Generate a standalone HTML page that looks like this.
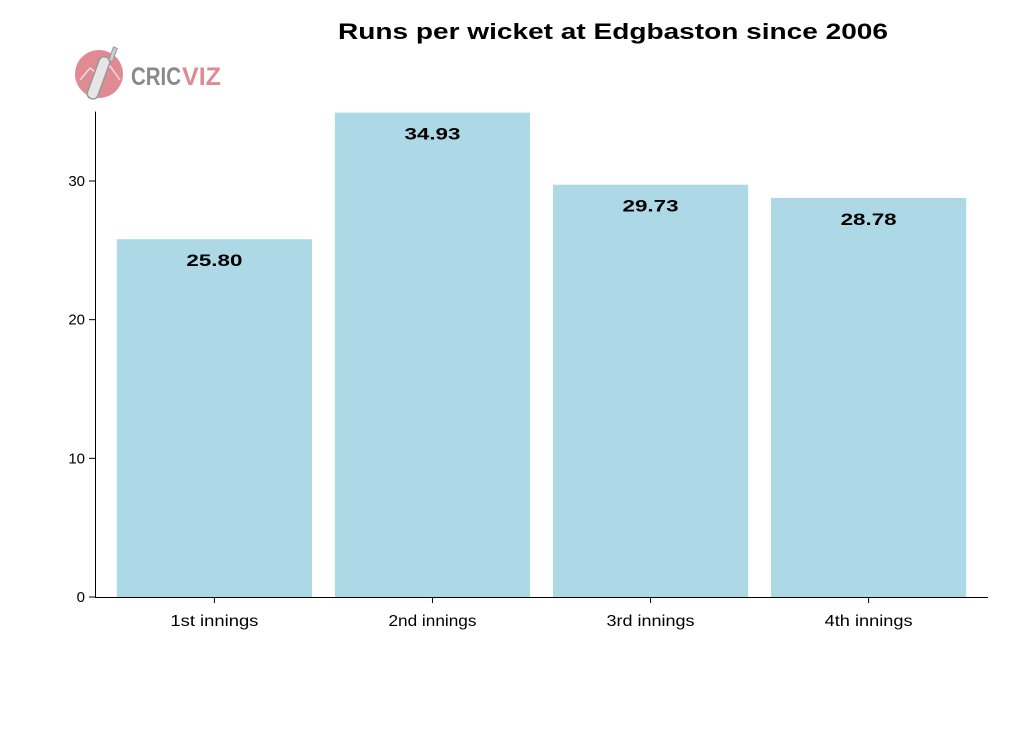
<!DOCTYPE html>
<html><head><meta charset="utf-8">
<style>
html,body{margin:0;padding:0;background:#fff;}
svg{display:block;font-family:"Liberation Sans",sans-serif;}
</style></head>
<body>
<svg id="chart" width="1024" height="745">
  <text x="613" y="39" text-anchor="middle" font-size="22" font-weight="bold" textLength="550" lengthAdjust="spacingAndGlyphs">Runs per wicket at Edgbaston since 2006</text>
  <g>
    <circle cx="99" cy="74" r="24" fill="#e08a94"/>
    <path d="M80 80 L90 68 L100 76 L110 66 L120 80" stroke="#fff" stroke-width="1.5" fill="none" opacity="0.7"/>
    <rect x="93" y="56" width="11" height="44" rx="5" fill="#e6e6e6" stroke="#999" stroke-width="1.5" transform="rotate(20 99 78)"/>
    <rect x="102" y="44" width="4" height="14" fill="#ccc" stroke="#999" stroke-width="1" transform="rotate(20 99 78)"/>
    <text x="131" y="85" font-size="25" font-weight="bold" fill="#8a8a8a" textLength="50" lengthAdjust="spacingAndGlyphs">CRIC</text>
    <text x="182" y="85" font-size="25" font-weight="bold" fill="#e08a94" textLength="39" lengthAdjust="spacingAndGlyphs">VIZ</text>
  </g>
  <g id="plot"></g>
</svg>
<script>
const categories = ["1st innings","2nd innings","3rd innings","4th innings"];
const values = [25.80, 34.93, 29.73, 28.78];
const valueLabels = ["25.80","34.93","29.73","28.78"];
const yTicks = [0,10,20,30];

const x0 = 95, x1 = 988, y0 = 597, pxPerUnit = 13.867;
const yScale = v => y0 - v * pxPerUnit;
const n = categories.length, pIn = 0.105, pOut = 0.1;
const step = (x1 - x0) / (n - pIn + 2 * pOut);
const bw = step * (1 - pIn);
const xScale = i => x0 + step * pOut + i * step;

const NS = "http://www.w3.org/2000/svg";
const g = document.getElementById("plot");
function mk(tag, attrs, parent) {
  const e = document.createElementNS(NS, tag);
  for (const k in attrs) e.setAttribute(k, attrs[k]);
  (parent || g).appendChild(e);
  return e;
}

values.forEach((v, i) => {
  const r = mk("rect", {x: xScale(i), y: yScale(v), width: bw, height: y0 - yScale(v), fill: "#add8e6"});
  
  
  const t = mk("text", {x: xScale(i) + bw / 2, y: yScale(v) + 27, "text-anchor": "middle", "font-size": "17", "font-weight": "bold", textLength: "56", lengthAdjust: "spacingAndGlyphs"});
  t.textContent = valueLabels[i];
  
  
});

const xa = mk("path", {d: `M${x0},${y0 + 0.5}H${x1}`, stroke: "#000", fill: "none"});


categories.forEach((c, i) => {
  const cx = xScale(i) + bw / 2;
  mk("line", {x1: cx, x2: cx, y1: y0, y2: y0 + 6, stroke: "#000"});
  const t = mk("text", {x: cx, y: y0 + 29, "text-anchor": "middle", "font-size": "16", textLength: "88", lengthAdjust: "spacingAndGlyphs"});
  t.textContent = c;
  
  
});

const ya = mk("path", {d: `M${x0 + 0.5},${yScale(35)}V${y0}`, stroke: "#000", fill: "none"});


yTicks.forEach(v => {
  const y = yScale(v);
  mk("line", {x1: x0 - 6, x2: x0, y1: y, y2: y, stroke: "#000"});
  const t = mk("text", {x: x0 - 10, y: y + 5, "text-anchor": "end", "font-size": "15"});
  t.textContent = v;
  
  
});
</script>
</body></html>
